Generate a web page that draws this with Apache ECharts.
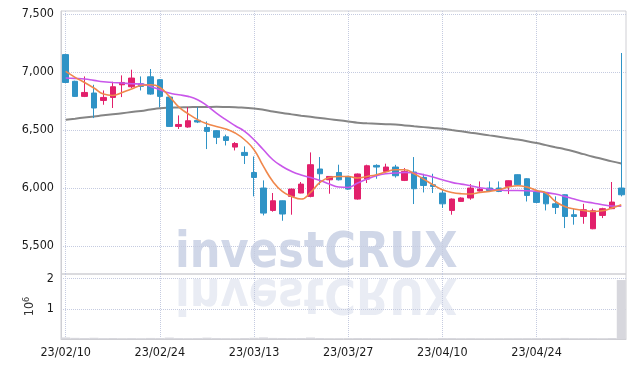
<!DOCTYPE html>
<html><head><meta charset="utf-8">
<script src="https://cdn.jsdelivr.net/npm/echarts@6/dist/echarts.min.js"></script>
<style>html,body{margin:0;padding:0;background:#fff}#c{width:634px;height:368px}</style>
</head><body><div id="c"></div>
<script>
var dates = ['23/02/10','23/02/13','23/02/14','23/02/15','23/02/16','23/02/17','23/02/20','23/02/21','23/02/22','23/02/23',
'23/02/24','23/02/27','23/02/28','23/03/02','23/03/03','23/03/06','23/03/07','23/03/08','23/03/09','23/03/10',
'23/03/13','23/03/14','23/03/15','23/03/16','23/03/17','23/03/20','23/03/21','23/03/22','23/03/23','23/03/24',
'23/03/27','23/03/28','23/03/29','23/03/30','23/03/31','23/04/03','23/04/04','23/04/05','23/04/06','23/04/07',
'23/04/10','23/04/11','23/04/12','23/04/13','23/04/14','23/04/17','23/04/18','23/04/19','23/04/20','23/04/21',
'23/04/24','23/04/25','23/04/26','23/04/27','23/04/28','23/05/02','23/05/03','23/05/04','23/05/08','23/05/09'];
// [open, close, low, high]
var ohlc = [
[7150,6910,6905,7150],[6920,6790,6785,6925],[6790,6824,6784,6962],[6819,6690,6603,6890],[6755,6781,6718,6841],
[6781,6873,6690,6916],[6890,6910,6784,6971],[6873,6948,6862,7020],[6899,6876,6841,6962],[6959,6810,6804,7026],
[6934,6790,6695,6940],[6784,6531,6528,6790],[6531,6548,6509,6626],[6526,6580,6520,6698],[6583,6569,6560,6698],
[6522,6488,6336,6574],[6494,6437,6379,6500],[6442,6410,6367,6460],[6353,6384,6324,6396],[6307,6281,6207,6359],
[6134,6091,5928,6272],[6000,5784,5764,6066],[5807,5890,5796,5957],[5890,5776,5718,5892],[5928,5991,5770,5995],
[5957,6034,5955,6052],[5928,6201,5920,6307],[6164,6123,6028,6267],[6071,6100,5951,6102],[6134,6071,6065,6201],
[6100,5991,5985,6105],[5905,6121,5900,6125],[6077,6192,6043,6201],[6195,6181,6080,6205],[6143,6181,6140,6210],
[6181,6106,6090,6200],[6066,6143,6060,6172],[6138,5994,5862,6267],[6092,6022,5962,6123],[6028,6014,5957,6123],
[5957,5864,5828,5991],[5807,5905,5770,5910],[5885,5914,5880,5920],[5914,6000,5899,6034],[5974,5991,5970,6057],
[6000,5979,5975,6057],[6000,5971,5965,6057],[6014,6063,5948,6066],[6115,6028,6025,6118],[6080,5936,5884,6085],
[5966,5876,5870,5970],[5957,5864,5807,5960],[5864,5833,5776,5928],[5942,5755,5655,5945],[5770,5755,5684,5819],
[5755,5813,5692,5864],[5649,5804,5645,5822],[5764,5822,5741,5830],[5822,5879,5818,6052],[6000,5942,5928,7164]];
var maShort = [7005,6954,6910,6862,6810,6798,6824,6853,6884,6890,6867,6790,6700,6640,6590,6555,6531,6509,6474,6416,
6330,6186,6057,5971,5928,5905,5962,6048,6091,6100,6100,6086,6100,6115,6138,6158,6158,6123,6077,6028,
5985,5962,5951,5948,5962,5971,5985,6008,6020,6008,5979,5957,5884,5841,5819,5807,5798,5804,5827,5856];
var maMid = [6948,6945,6940,6928,6916,6910,6905,6899,6896,6876,6847,6819,6804,6790,6761,6710,6646,6589,6537,6488,
6416,6330,6244,6186,6143,6112,6090,6065,6035,6009,6005,6043,6077,6106,6123,6129,6135,6129,6115,6095,
6071,6049,6034,6020,6003,5990,5983,5979,5979,5977,5971,5962,5948,5928,5905,5884,5871,5856,5845,5843];
var maLong = [6589,6598,6608,6617,6627,6635,6645,6655,6665,6677,6688,6693,6695,6697,6698,6699,6700,6699,6697,6692,
6686,6675,6660,6646,6635,6624,6614,6604,6594,6584,6574,6563,6558,6554,6550,6547,6540,6532,6525,6518,
6511,6500,6489,6477,6466,6454,6442,6430,6418,6404,6388,6370,6352,6335,6315,6292,6270,6250,6230,6212];
var volume = [52000,38000,30000,41000,26000,33000,24000,28000,22000,35000,30000,47000,26000,22000,29000,45000,30000,25000,21000,33000,
40000,52000,36000,34000,28000,30000,48000,31000,24000,23000,27000,30000,29000,22000,20000,23000,21000,34000,25000,20000,
30000,31000,22000,25000,20000,19000,21000,24000,25000,27000,29000,28000,22000,36000,24000,23000,26000,21000,30000,1950000];

var FONT = "'DejaVu Sans Condensed','DejaVu Sans',sans-serif";
var WM = "bold 50px 'DejaVu Sans Condensed','DejaVu Sans',sans-serif";
var UP = '#e2206b', DOWN = '#2f93c6';
var splitStyle = {type:'dotted', color:'#c5cbe0', width:1};
var chart = echarts.init(document.getElementById('c'), null, {renderer:'canvas'});
chart.setOption({
  animation:false,
  backgroundColor:'#fff',
  graphic:[
    {type:'text', x:175, y:229, z:-10, scaleX:0.96, style:{text:'investCRUX', font:WM, fill:'#d0d7e8', verticalAlign:'top'}},
    {type:'text', x:175, y:317, z:-10, scaleX:0.96, scaleY:-1, style:{text:'investCRUX', font:WM, fill:'#e9ecf4', verticalAlign:'top'}}
  ],
  grid:[
    {left:61, right:8, top:11, height:263, show:true, borderColor:'#cfcfd4', borderWidth:1, backgroundColor:'transparent'},
    {left:61, right:8, top:274, height:65, show:true, borderColor:'#cfcfd4', borderWidth:1, backgroundColor:'transparent'}
  ],
  xAxis:[
    {type:'category', gridIndex:0, data:dates, boundaryGap:true,
     axisLine:{show:false}, axisTick:{show:false}, axisLabel:{show:false},
     splitLine:{show:true, interval:9, alignWithLabel:true, lineStyle:splitStyle}},
    {type:'category', gridIndex:1, data:dates, boundaryGap:true,
     axisLine:{show:true, lineStyle:{color:'#cfcfd4'}}, axisTick:{show:false},
     axisLabel:{interval:9, color:'#1a1a1a', fontFamily:FONT, fontSize:12.5, margin:7},
     splitLine:{show:true, interval:9, alignWithLabel:true, lineStyle:splitStyle}}
  ],
  yAxis:[
    {type:'value', gridIndex:0, min:5259, max:7526, scale:true,
     axisLine:{show:true, lineStyle:{color:'#cfcfd4'}}, axisTick:{show:false},
     axisLabel:{showMinLabel:false, showMaxLabel:false, color:'#1a1a1a', fontFamily:FONT, fontSize:12.5, margin:7,
       formatter:function(v){return v.toLocaleString('en-US');}},
     splitLine:{show:true, showMinLine:false, showMaxLine:false, lineStyle:splitStyle}},
    {type:'value', gridIndex:1, min:0, max:2150000, splitNumber:2,
     name:'10{s|6}', nameLocation:'middle', nameRotate:90, nameGap:16,
     nameTextStyle:{color:'#333', fontFamily:FONT, fontSize:12.5, rich:{s:{fontSize:9, verticalAlign:'top', padding:[0,0,6,0], fontFamily:FONT, color:'#333'}}},
     axisLine:{show:true, lineStyle:{color:'#cfcfd4'}}, axisTick:{show:false},
     axisLabel:{showMinLabel:false, showMaxLabel:false, color:'#1a1a1a', fontFamily:FONT, fontSize:12.5, margin:7,
       formatter:function(v){return String(v/1000000);}},
     splitLine:{show:true, showMinLine:false, showMaxLine:false, lineStyle:splitStyle}}
  ],
  series:[
    {type:'line', xAxisIndex:0, yAxisIndex:0, data:maLong, smooth:true, symbol:'none', z:3,
     lineStyle:{color:'#858585', width:2}},
    {type:'candlestick', xAxisIndex:0, yAxisIndex:0, data:ohlc, barWidth:6, z:4,
     itemStyle:{color:UP, color0:DOWN, borderColor:UP, borderColor0:DOWN, borderWidth:1}},
    {type:'line', xAxisIndex:0, yAxisIndex:0, data:maMid, smooth:true, symbol:'none', z:5,
     lineStyle:{color:'#c957ea', width:1.6}},
    {type:'line', xAxisIndex:0, yAxisIndex:0, data:maShort, smooth:true, symbol:'none', z:5,
     lineStyle:{color:'#f0884c', width:1.6}},
    {type:'bar', xAxisIndex:1, yAxisIndex:1, data:volume, barWidth:'96%', z:3,
     itemStyle:{color:'#d7d7dd'}}
  ]
});
</script></body></html>
